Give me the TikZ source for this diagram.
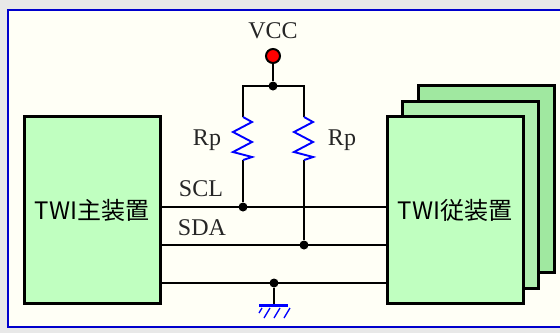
\documentclass[tikz,border=0pt]{standalone}
\usepackage{fontspec}
\setmainfont{Liberation Serif}
\newfontfamily\cjk{Noto Sans CJK JP}
\begin{document}
\begin{tikzpicture}[x=1pt,y=-1pt,
  box/.style={draw=black,line width=3pt,minimum width=136pt,minimum height=187pt,inner sep=0pt},
  wire/.style={draw=black,line width=1.5pt},
  dot/.style={circle,fill=black,inner sep=0pt,minimum size=9pt},
  lbl/.style={font=\fontsize{24}{26}\selectfont,text=black!85},
  res/.style={draw=blue,line width=1.9pt,line join=miter}]
\useasboundingbox (0,0) rectangle (560,333);
\clip (0,0) rectangle (560,333);
\fill[black!9] (0,0) rectangle (560,333);
\draw[blue!80!black,line width=1.3pt,fill={rgb,255:red,255;green,255;blue,246}] (8,10) rectangle (575,327);
% boxes
\node[box,fill={rgb,255:red,160;green,232;blue,160}] (back) at (486,179) {};
\node[box,fill={rgb,255:red,176;green,240;blue,176}] (mid) at (470.5,194.5) {};
\node[box,fill={rgb,255:red,192;green,255;blue,192},font=\cjk\fontsize{24}{26}\selectfont] (slave) at (455,210) {TWI従装置};
\node[box,fill={rgb,255:red,192;green,255;blue,192},font=\cjk\fontsize{24}{26}\selectfont] (master) at (92,210) {TWI主装置};
% junctions
\node[dot] (scl) at (243,207) {};
\node[dot] (sda) at (304,245) {};
\node[dot] (gnd) at (274,283) {};
\node[dot] (top) at (273,86) {};
\coordinate (tl) at (243,86);
\coordinate (tr) at (304,86);
\coordinate (r1t) at (243,117);
\coordinate (r1b) at (243,160);
\coordinate (r2t) at (304,117);
\coordinate (r2b) at (304,160);
% bus lines
\draw[wire] (master.east |- scl) -- (slave.west |- scl);
\draw[wire] (master.east |- sda) -- (slave.west |- sda);
\draw[wire] (master.east |- gnd) -- (slave.west |- gnd);
% VCC
\node[circle,draw=black,line width=2pt,fill=red,inner sep=0pt,minimum size=14pt] (vcc) at (273,56) {};
\node[lbl] (vcctxt) at (273,31) {VCC};
\draw[wire] (vcc) -- (top);
\draw[wire] (r1t) -- (tl) -- (tr) -- (r2t);
\draw[wire] (r1b) -- (scl);
\draw[wire] (r2b) -- (sda);
% resistors
\draw[res] (r1t) -- ++(9,5) -- ++(-19,10) -- ++(19,10) -- ++(-19,10) -- ++(19,5) -- (r1b);
\draw[res] (r2t) -- ++(9,5) -- ++(-19,10) -- ++(19,10) -- ++(-19,10) -- ++(19,5) -- (r2b);
\node[lbl] (rp1) at (207,140) {Rp};
\node[lbl] (rp2) at (342,140) {Rp};
\node[lbl] (scltxt) at (201,189) {SCL};
\node[lbl] (sdatxt) at (202,228) {SDA};
% ground
\coordinate (gb) at (274,305);
\draw[wire] (gnd) -- (gb);
\draw[draw=blue,line width=3pt] ([xshift=-15pt]gb) -- ([xshift=14pt]gb);
\foreach \dx in {-4,6,16} \draw[blue,line width=1.3pt] ([xshift=\dx pt,yshift=-3pt]gb) -- ++(-6,10);
\draw[blue,line width=1.3pt] ([xshift=-12pt,yshift=-3pt]gb) -- ++(-3,5);
\end{tikzpicture}
\end{document}
